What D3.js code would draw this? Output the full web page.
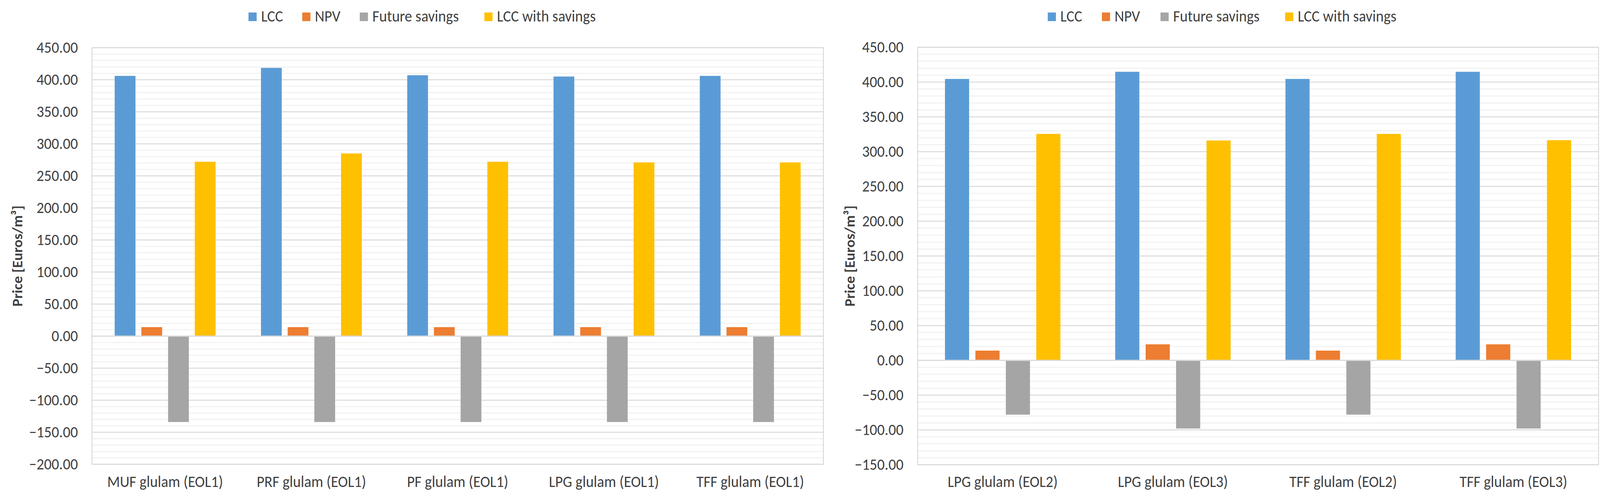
<!DOCTYPE html>
<html>
<head>
<meta charset="utf-8">
<script src="https://cdn.jsdelivr.net/npm/d3@7"></script>
<style>
  html, body { margin: 0; padding: 0; background: #ffffff; width: 100%; height: 100%; overflow: hidden; }
  svg { display: block; width: 100vw; height: 100vh; }
  text { font-family: Carlito, Calibri, Lato, "Noto Sans", sans-serif; }
</style>
</head>
<body>
<svg id="chart" viewBox="0 0 4314 1287" preserveAspectRatio="none"></svg>
<script>
// ---------- DATA ----------
const seriesNames = ["LCC", "NPV", "Future savings", "LCC with savings"];
const seriesColors = ["#5B9BD5", "#ED7D31", "#A5A5A5", "#FFC000"];

const leftCategories = ["MUF glulam (EOL1)", "PRF glulam (EOL1)", "PF glulam (EOL1)", "LPG glulam (EOL1)", "TFF glulam (EOL1)"];
const leftLCC = [406.0, 418.5, 407.0, 405.0, 406.0];
const leftNPV = [14.0, 14.0, 14.0, 14.0, 14.0];
const leftFutureSavings = [-134.0, -134.0, -134.0, -134.0, -134.0];
const leftLCCWithSavings = [272.0, 285.0, 272.0, 271.0, 271.0];
const leftTickValues = [-200, -150, -100, -50, 0, 50, 100, 150, 200, 250, 300, 350, 400, 450];
const leftMinorTickValues = [-190,-180,-170,-160,-140,-130,-120,-110,-90,-80,-70,-60,-40,-30,-20,-10,10,20,30,40,60,70,80,90,110,120,130,140,160,170,180,190,210,220,230,240,260,270,280,290,310,320,330,340,360,370,380,390,410,420,430,440];

const rightCategories = ["LPG glulam (EOL2)", "LPG glulam (EOL3)", "TFF glulam (EOL2)", "TFF glulam (EOL3)"];
const rightLCC = [404.5, 414.8, 404.5, 414.8];
const rightNPV = [14.0, 23.0, 14.0, 23.0];
const rightFutureSavings = [-78.0, -98.0, -78.0, -98.0];
const rightLCCWithSavings = [325.5, 316.0, 325.5, 316.5];
const rightTickValues = [-150, -100, -50, 0, 50, 100, 150, 200, 250, 300, 350, 400, 450];
const rightMinorTickValues = [-140,-130,-120,-110,-90,-80,-70,-60,-40,-30,-20,-10,10,20,30,40,60,70,80,90,110,120,130,140,160,170,180,190,210,220,230,240,260,270,280,290,310,320,330,340,360,370,380,390,410,420,430,440];

const yAxisTitle = "Price [Euros/m³]";

// ---------- DRAW ----------
const svg = d3.select("#chart");
const fmt = d3.format(".2f");

function drawChart(opt) {
  const g = svg.append("g");
  const x = d3.scaleBand().domain(opt.categories).range([opt.x0, opt.x1]).paddingInner(0).paddingOuter(0);
  const y = d3.scaleLinear().domain([opt.yMin, opt.yMax]).range([opt.y1, opt.y0]);
  const groupW = x.bandwidth() * opt.groupRatio;
  const inner = d3.scaleBand().domain(seriesNames)
      .range([-groupW / 2, groupW / 2])
      .paddingInner(opt.barPad).paddingOuter(opt.barPad / 2);
  const color = d3.scaleOrdinal().domain(seriesNames).range(seriesColors);

  // minor gridlines
  g.append("g").selectAll("line").data(opt.minorTicks).join("line")
    .attr("x1", opt.x0).attr("x2", opt.x1)
    .attr("y1", d => y(d)).attr("y2", d => y(d))
    .attr("stroke", "#f0f0f0").attr("stroke-width", 2.5);

  // major gridlines (except zero, drawn later)
  g.append("g").selectAll("line").data(opt.ticks.filter(d => d !== 0)).join("line")
    .attr("x1", opt.x0).attr("x2", opt.x1)
    .attr("y1", d => y(d)).attr("y2", d => y(d))
    .attr("stroke", "#d9d9d9").attr("stroke-width", 2.5);

  // plot border
  g.append("rect").attr("x", opt.x0).attr("y", y(opt.yMax))
    .attr("width", opt.x1 - opt.x0).attr("height", y(opt.yMin) - y(opt.yMax))
    .attr("fill", "none").attr("stroke", "#d9d9d9").attr("stroke-width", 2.5);

  // bars
  const rows = opt.categories.map((c, i) => ({
    cat: c,
    vals: seriesNames.map((s, k) => ({ s, v: opt.series[k][i] }))
  }));
  const grp = g.append("g").selectAll("g").data(rows).join("g")
    .attr("transform", d => `translate(${x(d.cat) + x.bandwidth() / 2},0)`);
  grp.selectAll("rect").data(d => d.vals).join("rect")
    .attr("x", d => inner(d.s))
    .attr("width", inner.bandwidth())
    .attr("y", d => d.v >= 0 ? y(d.v) : y(0))
    .attr("height", d => Math.abs(y(d.v) - y(0)))
    .attr("fill", d => color(d.s));

  // zero line on top
  g.append("line").attr("x1", opt.x0).attr("x2", opt.x1)
    .attr("y1", y(0)).attr("y2", y(0))
    .attr("stroke", "#d9d9d9").attr("stroke-width", 3);

  // y axis tick labels via d3 axis
  const yAxis = d3.axisLeft(y).tickValues(opt.ticks).tickFormat(d => fmt(d)).tickSize(0).tickPadding(38);
  const ya = g.append("g").attr("transform", `translate(${opt.x0},0)`).call(yAxis);
  ya.select(".domain").remove();
  ya.selectAll("text").attr("font-size", 40).attr("fill", "#404040")
    .attr("font-family", "Carlito, Calibri, Lato, sans-serif");

  // x axis category labels
  const xAxis = d3.axisBottom(x).tickSize(0).tickPadding(0);
  const xa = g.append("g").attr("transform", `translate(0,${opt.labelY})`).call(xAxis);
  xa.select(".domain").remove();
  xa.selectAll("text").attr("font-size", 40).attr("fill", "#404040").attr("dy", 0)
    .attr("font-family", "Carlito, Calibri, Lato, sans-serif");

  // y axis title
  g.append("text")
    .attr("transform", `translate(${opt.titleX},${(opt.y0 + opt.y1) / 2}) rotate(-90)`)
    .attr("text-anchor", "middle")
    .attr("font-size", 38).attr("font-weight", "bold").attr("fill", "#404040")
    .text(yAxisTitle);

  // legend
  const lg = g.append("g");
  seriesNames.forEach((s, k) => {
    const lx = opt.legendX + opt.legendOffsets[k];
    lg.append("rect").attr("x", lx).attr("y", 32).attr("width", 22).attr("height", 22).attr("fill", seriesColors[k]);
    lg.append("text").attr("x", lx + 34).attr("y", 55).attr("font-size", 40).attr("fill", "#404040").text(s);
  });
}

drawChart({
  categories: leftCategories,
  series: [leftLCC, leftNPV, leftFutureSavings, leftLCCWithSavings],
  ticks: leftTickValues, minorTicks: leftMinorTickValues,
  yMin: -200, yMax: 450,
  x0: 248, x1: 2220, y0: 122, y1: 1188,
  groupRatio: 0.730, barPad: 0.222,
  labelY: 1246, titleX: 60,
  legendX: 670, legendOffsets: [0, 145, 300, 636]
});

drawChart({
  categories: rightCategories,
  series: [rightLCC, rightNPV, rightFutureSavings, rightLCCWithSavings],
  ticks: rightTickValues, minorTicks: rightMinorTickValues,
  yMin: -150, yMax: 450,
  x0: 2474, x1: 4310, y0: 121, y1: 1189,
  groupRatio: 0.715, barPad: 0.207,
  labelY: 1246, titleX: 2304,
  legendX: 2825, legendOffsets: [0, 146, 304, 640]
});
</script>
</body>
</html>
